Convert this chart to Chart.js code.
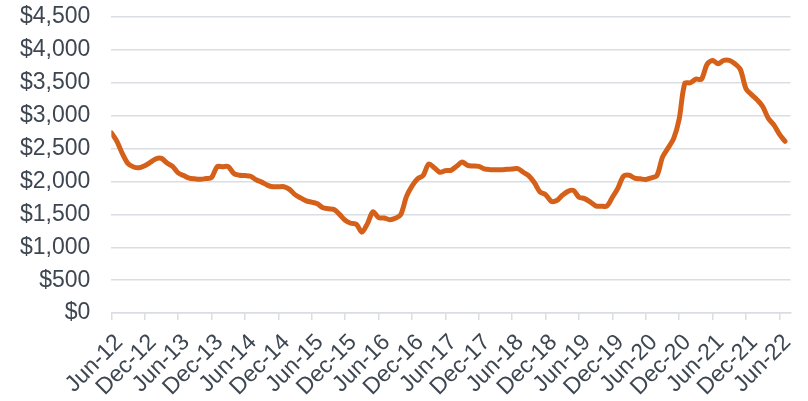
<!DOCTYPE html>
<html>
  <head>
    <meta charset="UTF-8" />
    <script src="https://cdn.jsdelivr.net/npm/chart.js"></script>
    <style>
      html, body { margin: 0; padding: 0; background: #fff; }
      #wrap { width: 808px; height: 401px; }
    </style>
  </head>
  <body>
    <div id="wrap"><canvas id="chartLine"></canvas></div>
    <script>
      // monthly values, Jun-12 .. Jul-22
      const values = [
        2740, 2610, 2420, 2270, 2220, 2210, 2240, 2290, 2345, 2350, 2280, 2230,
        2130, 2090, 2050, 2040, 2035, 2045, 2060, 2225, 2225, 2225, 2120, 2095,
        2090, 2080, 2025, 1990, 1945, 1920, 1920, 1920, 1880, 1800, 1750, 1705,
        1685, 1660, 1600, 1585, 1575, 1500, 1410, 1365, 1350, 1230, 1360, 1540,
        1450, 1445, 1420, 1440, 1500, 1770, 1930, 2040, 2090, 2265, 2210, 2140,
        2165, 2170, 2230, 2295, 2245, 2235, 2230, 2190, 2180, 2180, 2180, 2185,
        2190, 2195, 2140, 2085, 1980, 1840, 1800, 1700, 1710, 1790, 1850, 1865,
        1760, 1740, 1690, 1630, 1625, 1625, 1760, 1900, 2080, 2095, 2050, 2040,
        2030, 2055, 2090, 2370, 2510, 2650, 2950, 3490, 3500, 3555, 3555, 3780,
        3840, 3790, 3840, 3840, 3790, 3700, 3410, 3320, 3240, 3140, 2960, 2860,
        2720, 2610
      ];
      // one label every 6 months
      const tickLabels = [
        "Jun-12", "Dec-12", "Jun-13", "Dec-13", "Jun-14", "Dec-14", "Jun-15",
        "Dec-15", "Jun-16", "Dec-16", "Jun-17", "Dec-17", "Jun-18", "Dec-18",
        "Jun-19", "Dec-19", "Jun-20", "Dec-20", "Jun-21", "Dec-21", "Jun-22"
      ];
      const yTicks = [0, 500, 1000, 1500, 2000, 2500, 3000, 3500, 4000, 4500];

      const textColor = "#3d4651";
      const gridColor = "#dadee3";
      const font = { family: "'Liberation Sans', Arial, sans-serif", size: 23 };

      const chartData = {
        datasets: [
          {
            label: "Price",
            data: values.map((v, i) => ({ x: i, y: v })),
            borderColor: "#d5601a",
            backgroundColor: "#d5601a",
            borderWidth: 5,
            borderCapStyle: "round",
            borderJoinStyle: "round",
            pointRadius: 0,
            tension: 0.3,
          },
        ],
      };

      const config = {
        type: "line",
        data: chartData,
        options: {
          responsive: true,
          maintainAspectRatio: false,
          animation: false,
          layout: { padding: { top: 17, right: 5, left: 20, bottom: -9 } },
          plugins: { legend: { display: false }, tooltip: { enabled: false } },
          scales: {
            x: {
              type: "linear",
              min: 0,
              max: 122,
              afterBuildTicks: (scale) => {
                scale.ticks = tickLabels.map((_, k) => ({ value: k * 6 }));
              },
              ticks: {
                font: font,
                color: textColor,
                autoSkip: false,
                minRotation: 45,
                maxRotation: 45,
                padding: 9,
                labelOffset: 8,
                callback: (value) => tickLabels[Math.round(value / 6)],
              },
              grid: {
                drawOnChartArea: false,
                drawTicks: true,
                tickLength: 7,
                color: gridColor,
                lineWidth: 1.5,
              },
              border: { display: true, color: gridColor, width: 1.5 },
            },
            y: {
              min: 0,
              max: 4500,
              afterBuildTicks: (scale) => {
                scale.ticks = yTicks.map((v) => ({ value: v }));
              },
              ticks: {
                font: font,
                color: textColor,
                padding: 0,
                callback: (value) => "$" + value.toLocaleString("en-US"),
              },
              grid: {
                color: gridColor,
                lineWidth: 1.5,
                drawTicks: true,
                tickLength: 21,
                tickColor: "rgba(0,0,0,0)",
              },
              border: { display: false },
            },
          },
        },
      };

      new Chart(document.getElementById("chartLine"), config);
    </script>
  </body>
</html>
